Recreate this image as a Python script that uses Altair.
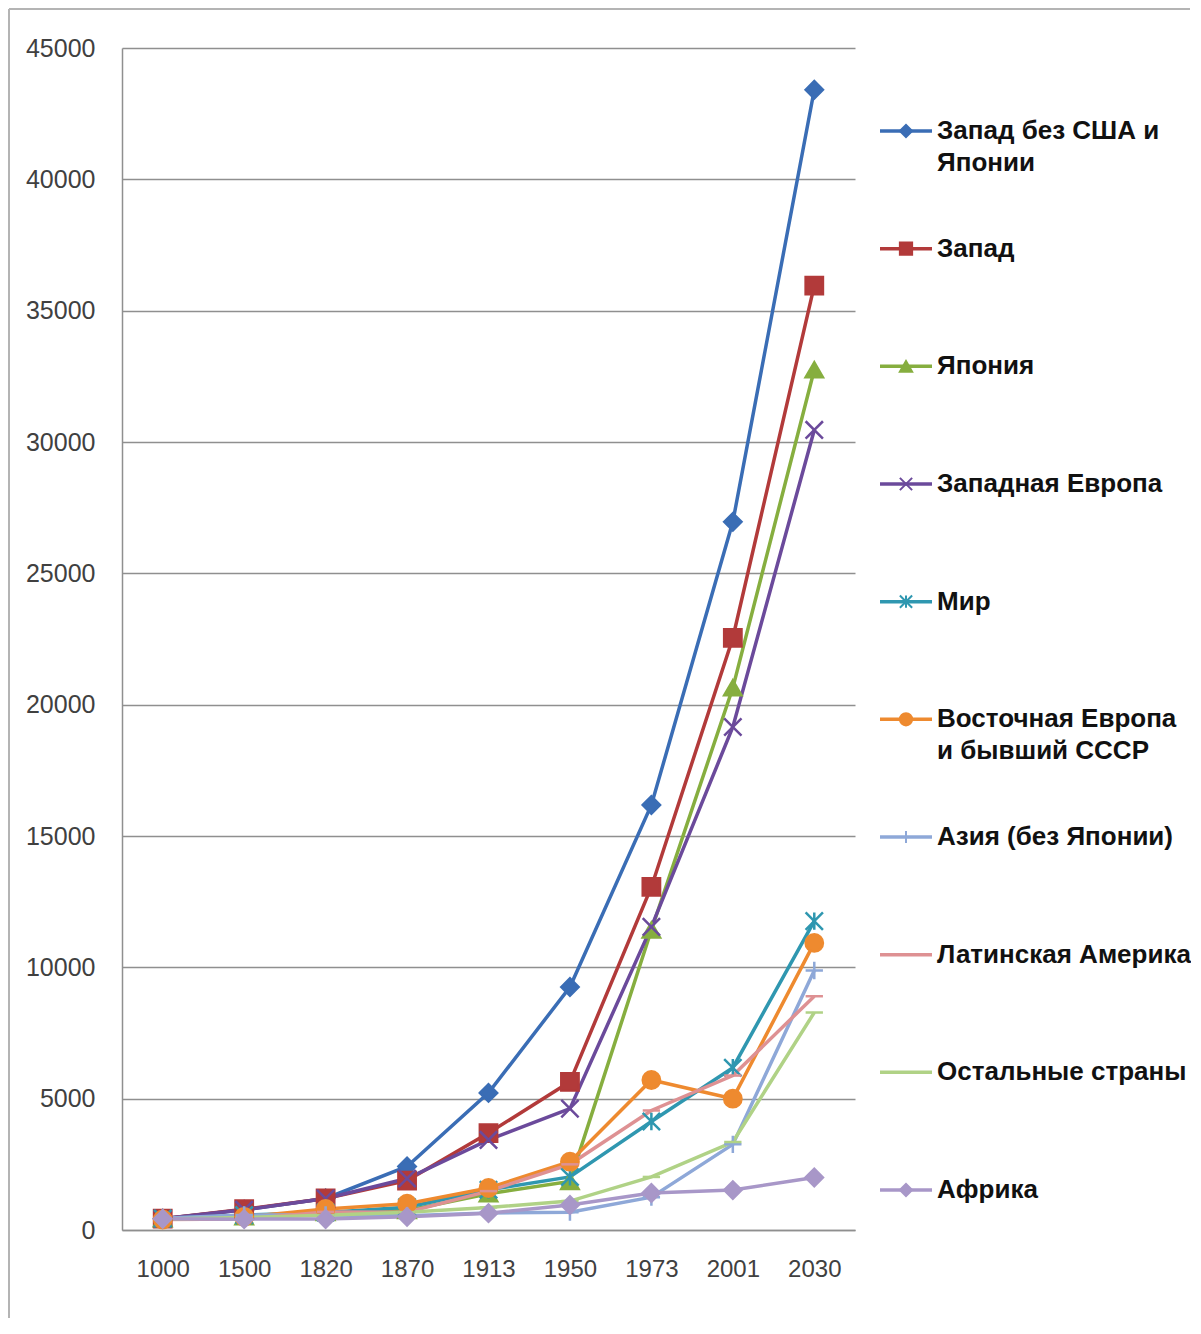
import altair as alt
import pandas as pd

years = ["1000", "1500", "1820", "1870", "1913", "1950", "1973", "2001", "2030"]

series_names = [
    "Запад без США и Японии",
    "Запад",
    "Япония",
    "Западная Европа",
    "Мир",
    "Восточная Европа и бывший СССР",
    "Азия (без Японии)",
    "Латинская Америка",
    "Остальные страны",
    "Африка",
]
legend_line1 = ["Запад без США и", "Запад", "Япония", "Западная Европа", "Мир",
                "Восточная Европа", "Азия (без Японии)", "Латинская Америка",
                "Остальные страны", "Африка"]
legend_line2 = ["Японии", "", "", "", "", "и бывший СССР", "", "", "", ""]

west_ex = [430, 770, 1200, 2420, 5220, 9250, 16180, 26960, 43410]
west = [430, 790, 1200, 1880, 3690, 5640, 13060, 22540, 35950]
japan = [425, 500, 670, 740, 1380, 1850, 11420, 20640, 32750]
w_europe = [430, 770, 1200, 1960, 3430, 4620, 11540, 19150, 30460]
world = [435, 565, 670, 870, 1530, 2020, 4130, 6180, 11760]
e_europe = [400, 500, 800, 1000, 1600, 2600, 5710, 5000, 10930]
asia = [450, 570, 575, 545, 650, 680, 1250, 3260, 9880]
latam = [400, 416, 690, 680, 1480, 2500, 4550, 5880, 8900]
rest = [420, 480, 560, 680, 860, 1100, 2020, 3350, 8280]
africa = [425, 414, 420, 500, 640, 950, 1410, 1520, 2000]

all_values = [west_ex, west, japan, w_europe, world, e_europe, asia, latam, rest, africa]

colors = ["#3A6DB5", "#B23A3A", "#86AE3F", "#6B4A9B", "#2F97B0",
          "#EE8A2F", "#8EA8D8", "#DE9193", "#B0D286", "#A897C8"]
shapes = ["diamond", "square", "triangle-up", "M-1,-1L1,1M-1,1L1,-1",
          "M-1,-1L1,1M-1,1L1,-1M0,-1L0,1", "circle", "M0,-1L0,1M-1,0L1,0",
          "M-1,0L1,0", "M-1,0L1,0", "diamond"]

rows = []
for si, (name, vals) in enumerate(zip(series_names, all_values)):
    for yr, v in zip(years, vals):
        rows.append({"series": name, "si": si, "year": yr, "value": v})
df = pd.DataFrame(rows)

leg = pd.DataFrame({"series": series_names, "idx": list(range(len(series_names))),
                    "l1": legend_line1, "l2": legend_line2})

FONT = "Liberation Sans"
W, H = 733, 1182

color_scale = alt.Scale(domain=series_names, range=colors)
shape_scale = alt.Scale(domain=series_names, range=shapes)

x_enc = alt.X("year:O", sort=years,
              scale=alt.Scale(type="point", domain=years, padding=0.5),
              axis=alt.Axis(title=None, labelAngle=0, labelFontSize=24, labelFont=FONT,
                            labelColor="#404040", ticks=False, labelPadding=27,
                            domainColor="#8f8f8f", domainWidth=1.5, grid=False))
y_enc = alt.Y("value:Q",
              scale=alt.Scale(domain=[0, 45000], nice=False),
              axis=alt.Axis(title=None, values=list(range(0, 45001, 5000)), format="d",
                            labelFontSize=25, labelFont=FONT, labelColor="#404040",
                            ticks=False, labelPadding=27, grid=True,
                            gridColor="#8f8f8f", gridWidth=1.5,
                            domainColor="#8f8f8f", domainWidth=1.5))

base = alt.Chart(df)
lines = base.mark_line(strokeWidth=3.5).encode(
    x=x_enc, y=y_enc,
    color=alt.Color("series:N", scale=color_scale, legend=None),
    detail="series:N",
)
points = base.mark_point(filled=True, strokeWidth=2.5, opacity=1, size=300).encode(
    x=x_enc, y=y_enc,
    fill=alt.Fill("series:N", scale=color_scale, legend=None),
    stroke=alt.Stroke("series:N", scale=color_scale, legend=None),
    shape=alt.Shape("series:N", scale=shape_scale, legend=None),
)
main = alt.layer(lines, points)

ly = alt.Y("idx:Q", scale=alt.Scale(domain=[0, 9], range=[83, 1142]), axis=None)
lbase = alt.Chart(leg)
leg_rule = lbase.mark_rule(strokeWidth=3.5).encode(
    x=alt.value(758), x2=alt.value(810), y=ly,
    color=alt.Color("series:N", scale=color_scale, legend=None),
)
leg_pts = lbase.mark_point(filled=True, strokeWidth=2, opacity=1, size=150).encode(
    x=alt.value(784), y=ly,
    fill=alt.Fill("series:N", scale=color_scale, legend=None),
    stroke=alt.Stroke("series:N", scale=color_scale, legend=None),
    shape=alt.Shape("series:N", scale=shape_scale, legend=None),
)
leg_t1 = lbase.mark_text(align="left", baseline="middle", fontSize=26, fontWeight="bold",
                         font=FONT, color="#111111").encode(
    x=alt.value(815), y=ly, text="l1:N")
leg_t2 = lbase.mark_text(align="left", baseline="middle", fontSize=26, fontWeight="bold",
                         font=FONT, color="#111111", dy=32).encode(
    x=alt.value(815), y=ly, text="l2:N")
legend_layer = alt.layer(leg_rule, leg_pts, leg_t1, leg_t2)

frame_df = pd.DataFrame({"k": [0]})
frame_left = alt.Chart(frame_df).mark_rule(color="#b4b4b4", strokeWidth=2).encode(
    x=alt.value(-113), y=alt.value(-39), y2=alt.value(1270))
frame_top = alt.Chart(frame_df).mark_rule(color="#b4b4b4", strokeWidth=2).encode(
    x=alt.value(-113), x2=alt.value(1068), y=alt.value(-39))

chart = alt.layer(
    main, legend_layer, frame_left, frame_top
).resolve_scale(y="independent").properties(
    width=W, height=H, padding=0, background="white"
).configure_view(stroke=None)

chart.save("out.html", embed_options={"renderer": "svg", "actions": False})
